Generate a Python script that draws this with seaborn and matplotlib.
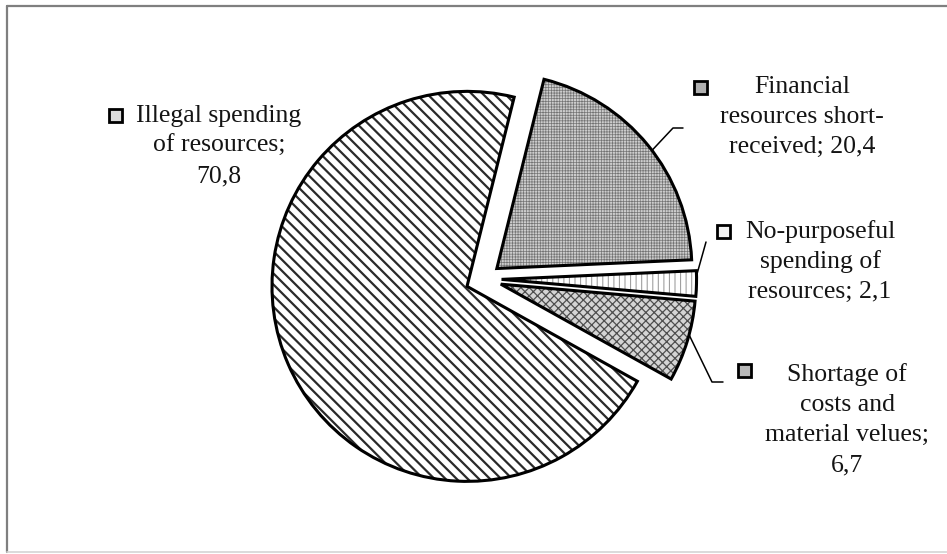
import numpy as np
import matplotlib
matplotlib.use("Agg")
import matplotlib.pyplot as plt
from matplotlib.patches import Rectangle
import seaborn as sns

# Structure of budget violations, %
categories = [
    "Financial resources short-received",
    "No-purposeful spending of resources",
    "Shortage of costs and material velues",
    "Illegal spending of resources",
]
shares = [20.4, 2.1, 6.7, 70.8]
label_heads = [
    ["Financial", "resources short-", "received;"],
    ["No-purposeful", "spending of", "resources;"],
    ["Shortage of", "costs and", "material velues;"],
    ["Illegal spending", "of resources;"],
]
value_on_own_line = [False, False, True, True]

sns.set_theme(style="white")
plt.rcParams["font.family"] = ["Liberation Serif", "DejaVu Serif"]

W, H = 947, 554
fig = plt.figure(figsize=(W / 100, H / 100), dpi=100)
ax = fig.add_axes([0, 0, 1, 1])


def iy(y):
    """Convert a top-down pixel row into the axes' bottom-up coordinate."""
    return H - y


center = (484, iy(279))
radius = 195
explode_frac = [0.085, 0.09, 0.09, 0.095]
explode = [f * radius for f in explode_frac]
start = 76

faces = ["#cdcdcd", "white", "#d4d4d4", "white"]
hatches = ["++++++", "|||", "xxxx", "\\\\\\"]
hatch_cols = ["#747474", "#a0a0a0", "#4e4e4e", "#2a2a2a"]
hatch_lws = [0.5, 0.8, 0.9, 1.6]

# hatched fills
fills, _ = ax.pie(shares, startangle=start, counterclock=False, explode=explode,
                  center=center, radius=radius, frame=False,
                  wedgeprops=dict(linewidth=0))
for w, fc, h, hc, hl in zip(fills, faces, hatches, hatch_cols, hatch_lws):
    w.set_facecolor(fc)
    w.set_edgecolor(hc)
    w.set_hatch(h)
    if hasattr(w, "set_hatch_linewidth"):
        w.set_hatch_linewidth(hl)
    w.set_linewidth(0)

# bold outlines on top
outlines, _ = ax.pie(shares, startangle=start, counterclock=False, explode=explode,
                     center=center, radius=radius, frame=False,
                     wedgeprops=dict(fill=False, edgecolor="black", linewidth=2.2))


def fmt(v):
    return f"{v:.1f}".replace(".", ",")


label_cx = [802, 820, 847, 219]
label_y0 = [87, 232, 375, 116]
line_step = 30
key_pos = [(700, 87), (723, 231), (744, 370), (115, 115)]
key_faces = ["#b0b0b0", "#f2f2f2", "#b8b8b8", "#dcdcdc"]

for heads, own, v, cx, y0, kp, kf in zip(label_heads, value_on_own_line, shares,
                                         label_cx, label_y0, key_pos, key_faces):
    lines = list(heads)
    if own:
        lines.append(fmt(v))
    else:
        lines[-1] = lines[-1] + " " + fmt(v)
    for k, s in enumerate(lines):
        ax.text(cx, iy(y0 + k * line_step), s, ha="center", va="center",
                fontsize=18.5, color="#141414")
    ax.add_patch(Rectangle((kp[0] - 6.5, iy(kp[1]) - 6.5), 13, 13,
                           facecolor=kf, edgecolor="black", linewidth=2))


def arc_point(w, ang):
    cx, cy = w.center
    a = np.deg2rad(ang)
    return cx + w.r * np.cos(a), cy + w.r * np.sin(a)


# leader lines from the small slices to their labels
w_fin, w_np, w_sh = outlines[0], outlines[1], outlines[2]
p = arc_point(w_fin, (w_fin.theta1 + w_fin.theta2) / 2 - 2)
ax.plot([p[0], 673, 683], [p[1], iy(128), iy(128)], color="black", lw=1.1)
p = arc_point(w_np, w_np.theta2 - 1.5)
ax.plot([p[0], 706], [p[1], iy(242)], color="black", lw=1.1)
p = arc_point(w_sh, (w_sh.theta1 + w_sh.theta2) / 2 + 2)
ax.plot([p[0], 712, 723], [p[1], iy(382), iy(382)], color="black", lw=1.1)

# chart area border
ax.plot([7, W], [iy(6), iy(6)], color="#7f7f7f", lw=1.6)
ax.plot([7, 7], [iy(6), iy(552)], color="#7f7f7f", lw=1.6)
ax.plot([7, W], [iy(552), iy(552)], color="#d4d4d4", lw=1.2)

ax.set_xlim(0, W)
ax.set_ylim(0, H)
ax.set_aspect("auto")
ax.axis("off")

fig.savefig("out.png", dpi=100, facecolor="white")
